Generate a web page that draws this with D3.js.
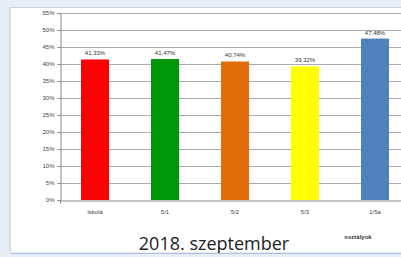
<!DOCTYPE html>
<html><head><meta charset="utf-8">
<script src="https://cdn.jsdelivr.net/npm/d3@7"></script>
<style>body{margin:0;background:#fff;overflow:hidden}svg{display:block}</style>
</head><body>
<script>
const categories = ["Iskola", "5/1", "5/2", "5/3", "1/5a"];
const values = [41.33, 41.47, 40.74, 39.32, 47.48];
const valueLabels = ["41,33%", "41,47%", "40,74%", "39,32%", "47,48%"];
const colors = ["#ff0000", "#00960a", "#e46c0a", "#ffff00", "#4f81bd"];
const yTicks = [0,5,10,15,20,25,30,35,40,45,50,55];
const title = "2018. szeptember";
const axisTitle = "osztályok";

(function () {
const W = 401, H = 257;
const svg = d3.select("body").append("svg").attr("width", W).attr("height", H);
// frame background
svg.append("rect").attr("width", W).attr("height", H).attr("fill", "#e8eef6");
svg.append("rect").attr("x", 10).attr("y", 7).attr("width", W - 10).attr("height", 245).attr("fill", "#fff");
svg.append("line").attr("x1", 10).attr("x2", 10).attr("y1", 7).attr("y2", 252).attr("stroke", "#b8c4d2");
svg.append("line").attr("x1", 10).attr("x2", W).attr("y1", 7.5).attr("y2", 7.5).attr("stroke", "#c8d2de");

const pLeft = 60, pRight = 410, pTop = 13, pBottom = 200;
const x = d3.scaleBand().domain(categories).range([pLeft, pRight]).paddingInner(0.6).paddingOuter(0.3);
const y = d3.scaleLinear().domain([0, 55]).range([pBottom, pTop]);

const g = svg.append("g");
// gridlines
g.selectAll(".grid").data(yTicks.filter(d => d > 0)).join("line")
  .attr("x1", pLeft).attr("x2", W).attr("y1", d => Math.round(y(d)) + 0.5).attr("y2", d => Math.round(y(d)) + 0.5)
  .attr("stroke", "#ababab").attr("stroke-width", 1);

// bars
g.selectAll(".bar").data(values).join("rect")
  .attr("x", (d, i) => x(categories[i])).attr("width", x.bandwidth())
  .attr("y", d => y(d)).attr("height", d => pBottom - y(d))
  .attr("fill", (d, i) => colors[i]);

// value labels
g.selectAll(".vl").data(values).join("text")
  .attr("x", (d, i) => x(categories[i]) + x.bandwidth() / 2).attr("y", d => y(d) - 4)
  .attr("text-anchor", "middle").attr("font-family", "Liberation Sans, Arial").attr("font-size", 6)
  .attr("fill", "#333").text((d, i) => valueLabels[i]);

// y axis
const yAxis = d3.axisLeft(y).tickValues(yTicks).tickFormat(d => d + "%").tickSize(3).tickPadding(3);
const ya = svg.append("g").attr("transform", `translate(${pLeft + 0.5},0)`).call(yAxis);
ya.select(".domain").attr("stroke", "#888");
ya.selectAll(".tick line").attr("stroke", "#888");
ya.selectAll("text").attr("font-family", "Liberation Sans, Arial").attr("font-size", 6).attr("fill", "#444");

// x axis
const xAxis = d3.axisBottom(x).tickSize(3).tickPadding(6);
const xa = svg.append("g").attr("transform", `translate(0,${pBottom + 0.5})`).call(xAxis);
xa.select(".domain").attr("stroke", "#888");
xa.selectAll(".tick line").remove();
xa.selectAll("text").attr("font-family", "Liberation Sans, Arial").attr("font-size", 6).attr("fill", "#444");

// axis title
svg.append("text").attr("x", 358).attr("y", 239).attr("text-anchor", "middle")
  .attr("font-family", "Liberation Sans, Arial").attr("font-size", 6).attr("font-weight", "bold").attr("fill", "#333").text(axisTitle);

// main title
svg.append("text").attr("x", 214).attr("y", 250).attr("text-anchor", "middle")
  .attr("font-family", "Open Sans, DejaVu Sans").attr("font-size", 18).attr("fill", "#222").text(title);

// bottom line
svg.append("line").attr("x1", 10).attr("x2", W).attr("y1", 253.5).attr("y2", 253.5).attr("stroke", "#a9c2e0");
})();
</script>
</body></html>
